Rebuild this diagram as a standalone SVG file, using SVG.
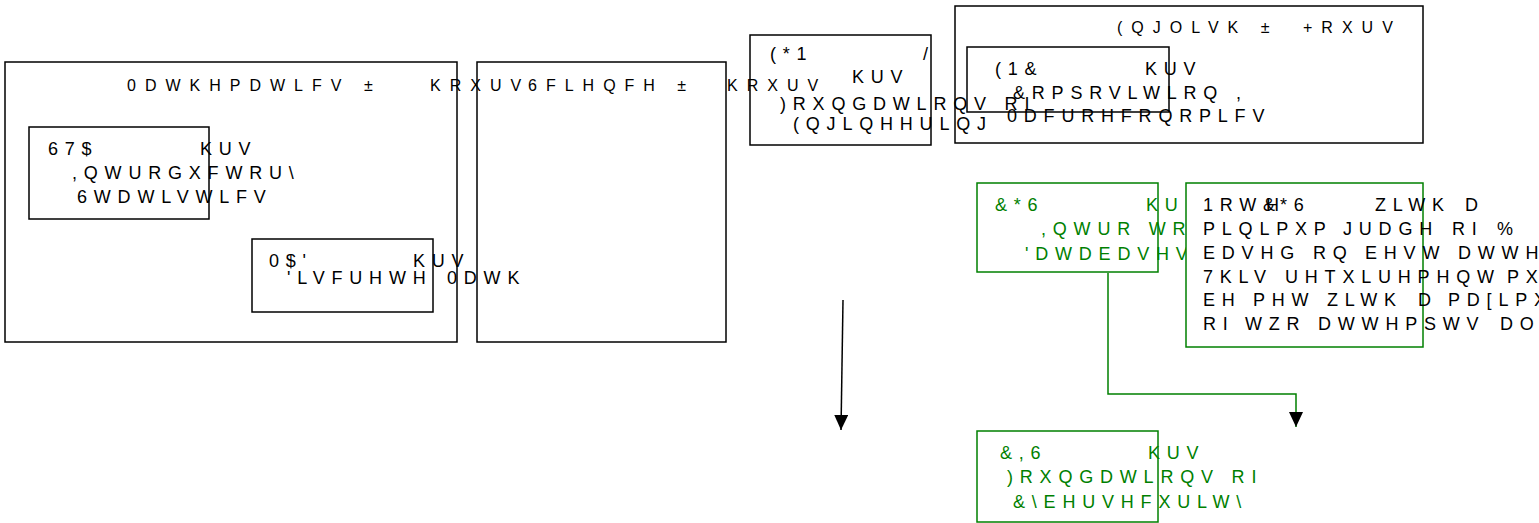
<svg xmlns="http://www.w3.org/2000/svg" width="1539" height="523" viewBox="0 0 1539 523">
<style>
.box{fill:none;stroke:#000;stroke-width:1.5}
.gbox{fill:none;stroke:#008000;stroke-width:1.5}
.wbox{fill:#fff;stroke:#008000;stroke-width:1.5}
text{font-family:"Liberation Sans",Arial,sans-serif;font-size:18px;letter-spacing:6.8px;fill:#000}
.t{font-size:16px;letter-spacing:9px}
.g{fill:#008000}
.conn{fill:none;stroke-width:1.5}
</style>
<defs>
<marker id="ah" markerUnits="userSpaceOnUse" markerWidth="16" markerHeight="16" refX="15" refY="7" orient="auto">
<path d="M0,0 L15,7 L0,14 z" fill="#000"/>
</marker>
</defs>
<rect width="1539" height="523" fill="#fff"/>
<g id="math">
<rect class="box" x="5" y="62" width="452" height="280"/>
<text class="t" y="91"><tspan x="127">0DWKHPDWLFV ±</tspan><tspan x="430">KRXUV</tspan></text>
</g>
<g id="science">
<rect class="box" x="477" y="62" width="249" height="280"/>
<text class="t" y="91"><tspan x="528">6FLHQFH ±</tspan><tspan x="727">KRXUV</tspan></text>
</g>
<g id="sta">
<rect class="box" x="29" y="127" width="180" height="92"/>
<text y="155"><tspan x="48">67$</tspan><tspan x="200">KUV</tspan></text>
<text x="72" y="179">,QWURGXFWRU\</text>
<text x="77" y="203">6WDWLVWLFV</text>
</g>
<g id="mad">
<rect class="box" x="252" y="239" width="181" height="73"/>
<text y="267"><tspan x="269">0$'</tspan><tspan x="413">KUV</tspan></text>
<text y="284"><tspan x="287">'LVFUHWH</tspan><tspan x="447">0DWK</tspan></text>
</g>
<g id="eng">
<rect class="box" x="750" y="35" width="181" height="110"/>
<text y="60"><tspan x="770">(*1</tspan><tspan x="923">/</tspan></text>
<text x="852" y="83">KUV</text>
<text x="780" y="110">)RXQGDWLRQV RI</text>
<text x="793" y="130">(QJLQHHULQJ</text>
</g>
<g id="english">
<rect class="box" x="955" y="6" width="468" height="137"/>
<text class="t" y="33"><tspan x="1117">(QJOLVK ±</tspan><tspan x="1303">+RXUV</tspan></text>
</g>
<g id="enc">
<rect class="box" x="967" y="47" width="202" height="65"/>
<text y="75"><tspan x="995">(1&amp;</tspan><tspan x="1145">KUV</tspan></text>
<text x="1013" y="99">&amp;RPSRVLWLRQ ,</text>
<text x="1007" y="122">0DFURHFRQRPLFV</text>
</g>
<g id="cgs">
<rect class="gbox" x="977" y="183" width="181" height="89"/>
<text class="g" y="211"><tspan x="995">&amp;*6</tspan><tspan x="1146">KU</tspan></text>
<text class="g" x="1041" y="235">,QWUR WR</text>
<text class="g" x="1025" y="260">'DWDEDVHV</text>
</g>
<g id="note">
<rect class="wbox" x="1186" y="183" width="237" height="164"/>
<text y="211"><tspan x="1203">1RW&amp;</tspan><tspan x="1266">H</tspan><tspan x="1280">*6</tspan><tspan x="1375">ZLWK</tspan><tspan x="1465">D</tspan></text>
<text y="235"><tspan x="1203">PLQLPXP</tspan><tspan x="1343">JUDGH</tspan><tspan x="1452">RI</tspan><tspan x="1497">%</tspan></text>
<text y="259"><tspan x="1203">EDVHG</tspan><tspan x="1313">RQ</tspan><tspan x="1365">EHVW</tspan><tspan x="1458">DWWH</tspan></text>
<text y="283"><tspan x="1203">7KLV</tspan><tspan x="1285">UHTXLUHPHQW</tspan><tspan x="1507">PX</tspan></text>
<text y="306"><tspan x="1203">EH</tspan><tspan x="1253">PHW</tspan><tspan x="1327">ZLWK</tspan><tspan x="1418">D</tspan><tspan x="1448">PD[LPX</tspan></text>
<text y="330"><tspan x="1203">RI</tspan><tspan x="1245">WZR</tspan><tspan x="1318">DWWHPSWV</tspan><tspan x="1500">DO</tspan></text>
</g>
<g id="cis">
<rect class="gbox" x="977" y="431" width="181" height="91"/>
<text class="g" y="459"><tspan x="1000">&amp;,6</tspan><tspan x="1148">KUV</tspan></text>
<text class="g" x="1007" y="483">)RXQGDWLRQV RI</text>
<text class="g" x="1013" y="508">&amp;\EHUVHFXULW\</text>
</g>
<g id="connectors">
<path class="conn" stroke="#000" d="M843,300 L841,430" marker-end="url(#ah)"/>
<path class="conn" stroke="#008000" d="M1108,273 L1108,394 L1296,394 L1296,427" marker-end="url(#ah)"/>
</g>
</svg>
